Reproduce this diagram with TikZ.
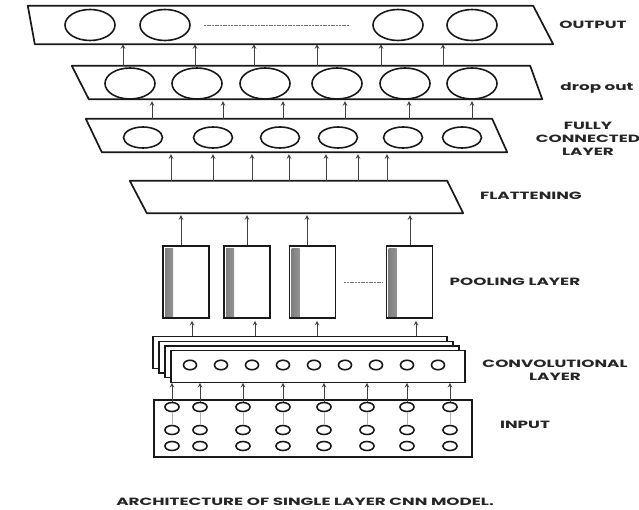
\documentclass[tikz,border=0pt]{standalone}
\usepackage{fontspec}
\newfontfamily\labelfont{Poppins}[FakeStretch=1.6]
\usetikzlibrary{shapes.geometric, arrows, calc}

\begin{document}
\begin{tikzpicture}[x=1pt, y=-1pt,
  layer/.style={draw=none, inner sep=0pt, minimum width=#1},
  edge/.style={draw=black!90, line width=1.7pt, line join=round},
  bigunit/.style={ellipse, draw=black!90, line width=1.6pt, inner sep=0pt,
                  minimum width=50pt, minimum height=31pt},
  fcunit/.style={bigunit, minimum width=39pt, minimum height=21pt},
  convunit/.style={bigunit, line width=1.6pt, minimum width=13pt, minimum height=9.5pt},
  inunit/.style={bigunit, line width=1.6pt, minimum width=14pt, minimum height=9pt},
  poolmap/.style={draw=black!90, line width=1.6pt, minimum width=46pt, minimum height=72pt,
                  path picture={\shade[left color=gray!95!black, right color=gray!10]
                    ($(path picture bounding box.north west)+(2,3)$) rectangle
                    ($(path picture bounding box.south west)+(10,-1)$);}},
  convmap/.style={draw=black!90, fill=white, line width=1.4pt,
                  minimum width=294pt, minimum height=31.5pt},
  arrow/.style={->, >=stealth, draw=black!75, line width=1pt, shorten >=2pt},
  link/.style={draw=gray!60, line width=1pt},
  dots/.style={draw=black!55, line width=0.6pt, dash pattern=on 2pt off 0.7pt},
  lbl/.style={font=\labelfont\bfseries\fontsize{10.5}{13}\selectfont, align=center,
              text=black!85}
]
  \useasboundingbox (0,0) rectangle (639,510);

  % layer boxes
  \node[layer=511.5pt, minimum height=38pt] (out)  at (287.25,25)   {};
  \node[layer=455.5pt, minimum height=33pt] (drop) at (308.25,82.5) {};
  \node[layer=405.5pt, minimum height=33pt] (fc)   at (296.75,135.5){};
  \node[layer=316.5pt, minimum height=32pt] (flat) at (296.75,197)  {};
  \foreach \b/\l/\r in {out/3.5/10, drop/8.5/6, fc/8/7.5, flat/8.5/8}
    \draw[edge] ($(\b.north west)+(-\l,0)$) -- ($(\b.north east)+(-\r,0)$)
      -- ($(\b.south east)+(\r,0)$) -- ($(\b.south west)+(\l,0)$) -- cycle;

  % neurons
  \foreach \x [count=\i] in {90,165,398,472}
    \node[bigunit] (o\i) at (\x,25) {};
  \foreach \x [count=\i] in {130,197,265,337,405,472}
    \node[bigunit] (d\i) at (\x,83.5) {};
  \foreach \x [count=\i] in {143,213,280,338,403,462}
    \node[fcunit] (f\i) at (\x,137.5) {};
  \draw[dots] ([xshift=13pt]o2.east) -- ([xshift=-23pt]o3.west);

  % pooling maps
  \foreach \x [count=\i] in {186,247,312.5,409.5}
    \node[poolmap] (pool\i) at (\x,282) {};
  \draw[dots] ([xshift=8pt]pool3.east) -- ([xshift=-3pt]pool4.west);

  % convolution stack
  \foreach \k in {0,...,3}
    \node[convmap] (conv\k) at ({300+6*\k},{352.5+4.67*\k}) {};
  \foreach \i in {1,...,9}
    \node[convunit] (c\i) at ({190+31*(\i-1)},365) {};

  % input grid
  \node[draw=black!90, line width=1.7pt, minimum width=318pt, minimum height=57pt] (in) at (313,428.5) {};
  \foreach \x [count=\i] in {172,200,243,283,324,367,407,450} {
    \node[inunit] (ia\i) at (\x,407) {};
    \node[inunit] (ib\i) at (\x,430) {};
    \node[inunit] (ic\i) at (\x,446) {};
    \draw[link] (ia\i) -- (ib\i);
    \draw[arrow, shorten >=0pt] (ia\i.north) -- (conv3.south -| ia\i.north);
  }

  % connections
  \foreach \x/\p in {192/1, 255/2, 317/3, 416/4}
    \draw[arrow] (conv0.north -| \x,0) -- (pool\p.south -| \x,0);
  \foreach \x/\p in {181/1, 247/2, 307/3, 410/4}
    \draw[arrow] (pool\p.north -| \x,0) -- (flat.south -| \x,0);
  \foreach \x in {171,213,252,289,326,358,387}
    \draw[arrow] (flat.north -| \x,0) -- (fc.south -| \x,0);
  \foreach \x in {152,223,283,345,409,472}
    \draw[arrow] (fc.north -| \x,0) -- (drop.south -| \x,0);
  \foreach \x in {123,195,254,317,381,443}
    \draw[arrow, shorten >=0pt] (drop.north -| \x,0) -- (out.south -| \x,0);

  % labels
  \node[lbl] (tout)  at (593,25)  {OUTPUT};
  \node[lbl] (tdrop) at (597,88)  {drop out};
  \node[lbl] (tfc)   at (588,139) {FULLY\\CONNECTED\\LAYER};
  \node[lbl] (tflat) at (531,196) {FLATTENING};
  \node[lbl] (tpool) at (515,282) {POOLING LAYER};
  \node[lbl] (tconv) at (555,370) {CONVOLUTIONAL\\LAYER};
  \node[lbl] (tin)   at (525,425) {INPUT};
  \node[lbl] (title) at (305,502) {ARCHITECTURE OF SINGLE LAYER CNN MODEL.};
\end{tikzpicture}
\end{document}
